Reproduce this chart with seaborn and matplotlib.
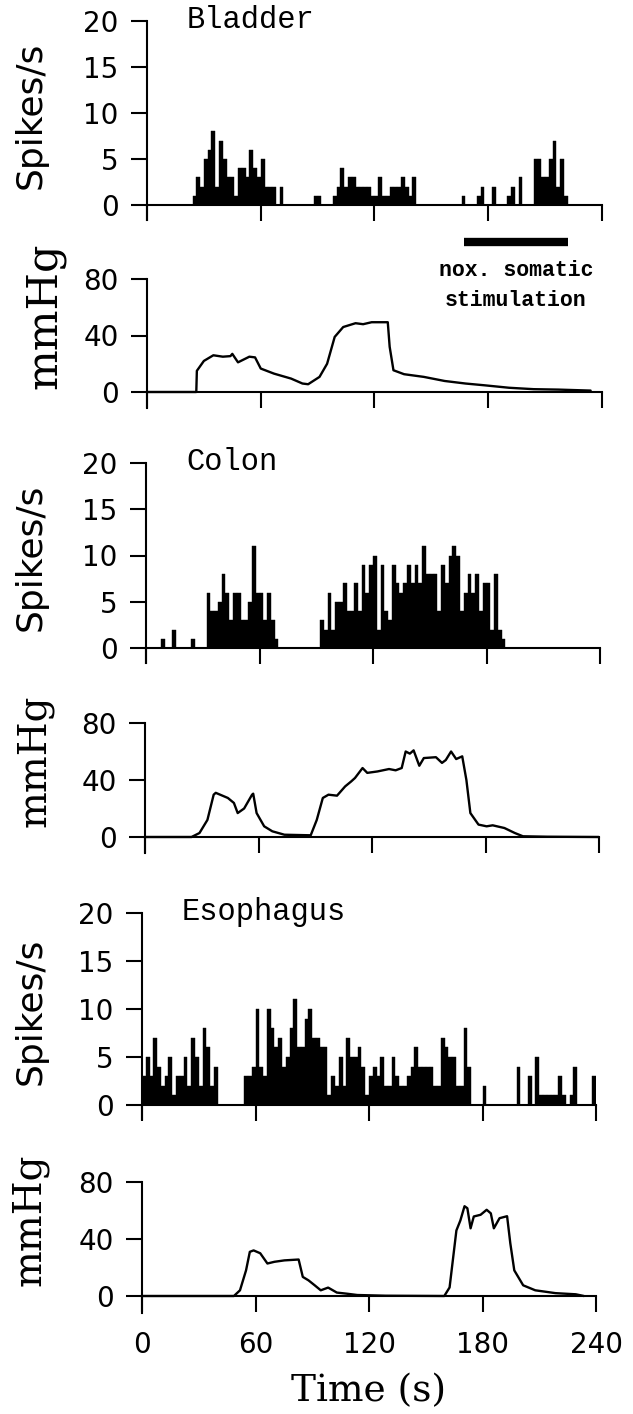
import numpy as np
import pandas as pd
import matplotlib
matplotlib.use("Agg")
import matplotlib.pyplot as plt
import seaborn as sns

# spike counts, 2 s bins from 0 to 240 s (one row = 20 s)
bladder_spikes = [
    0, 0, 0, 0, 0, 0, 0, 0, 0, 0,
    0, 0, 1, 3, 2, 5, 6, 8, 2, 7,
    5, 3, 3, 1, 4, 4, 3, 6, 4, 3,
    5, 2, 2, 2, 0, 2, 0, 0, 0, 0,
    0, 0, 0, 0, 1, 1, 0, 0, 0, 1,
    2, 4, 2, 3, 3, 2, 2, 2, 2, 1,
    1, 3, 1, 1, 2, 2, 2, 3, 2, 1,
    3, 0, 0, 0, 0, 0, 0, 0, 0, 0,
    0, 0, 0, 1, 0, 0, 0, 1, 2, 0,
    0, 2, 0, 0, 0, 1, 2, 0, 3, 0,
    0, 0, 5, 5, 3, 3, 5, 7, 2, 5,
    1, 0, 0, 0, 0, 0, 0, 0, 0, 0,
]
colon_spikes = [
    0, 0, 0, 0, 1, 0, 0, 2, 0, 0,
    0, 0, 1, 0, 0, 0, 6, 4, 4, 5,
    8, 6, 3, 6, 6, 3, 3, 5, 11, 6,
    6, 3, 6, 3, 1, 0, 0, 0, 0, 0,
    0, 0, 0, 0, 0, 0, 3, 2, 6, 2,
    5, 5, 7, 4, 4, 7, 4, 9, 6, 9,
    10, 2, 9, 4, 3, 9, 7, 6, 7, 9,
    7, 9, 7, 11, 8, 8, 8, 4, 9, 7,
    10, 11, 10, 4, 6, 8, 6, 8, 4, 7,
    7, 2, 8, 2, 1, 0, 0, 0, 0, 0,
    0, 0, 0, 0, 0, 0, 0, 0, 0, 0,
    0, 0, 0, 0, 0, 0, 0, 0, 0, 0,
]
esophagus_spikes = [
    3, 5, 3, 7, 4, 2, 3, 5, 1, 3,
    3, 5, 2, 7, 5, 2, 8, 6, 2, 4,
    0, 0, 0, 0, 0, 0, 0, 3, 3, 4,
    10, 4, 3, 10, 8, 6, 7, 4, 5, 8,
    11, 6, 6, 9, 10, 7, 7, 6, 6, 1,
    3, 2, 5, 2, 7, 5, 5, 6, 4, 1,
    3, 4, 3, 5, 2, 2, 5, 3, 2, 2,
    3, 4, 6, 4, 4, 4, 4, 2, 2, 7,
    6, 5, 5, 2, 2, 8, 4, 0, 0, 0,
    2, 0, 0, 0, 0, 0, 0, 0, 0, 4,
    0, 0, 3, 0, 5, 1, 1, 1, 1, 1,
    3, 1, 0, 1, 4, 0, 0, 0, 0, 3,
]
bin_t = np.arange(0, 240, 2) + 1

# pressure traces (time s, mmHg)
bladder_t = [0, 26, 26.3, 30, 35, 40, 44, 45, 48, 54, 57, 60, 67, 76, 82, 85, 91, 95,
             99, 103.5, 110, 114, 118.5, 127, 128, 130, 135.6, 146, 157, 168, 178,
             191, 204, 217, 234]
bladder_p = [0, 0, 15, 22, 26, 25, 25.4, 27, 21, 25, 24.5, 16.6, 13, 9.5, 6, 5.5, 10.7,
             20, 39, 46, 48.7, 48, 49.4, 49.4, 32, 15.4, 12.6, 10.7, 7.8, 6, 4.75,
             3, 2, 1.7, 1]
colon_t = [0, 24.6, 28.8, 33, 36.3, 37.4, 43.8, 47, 49, 52.4, 56.6, 57.2, 59, 63, 67.3,
           73.7, 87.6, 90.8, 94, 97, 101.5, 105.8, 109, 111, 115, 117.5, 122.9, 129,
           132.5, 135.7, 137.8, 140, 142, 145, 147.4, 153.8, 157, 159, 161.8, 164.5,
           167.7, 169.9, 172, 176.3, 180.6, 183.8, 190, 195.5, 199.8, 212.6, 240]
colon_p = [0, 0, 2.8, 12, 29.7, 31, 27.4, 23.9, 16.8, 20, 29.7, 30.4, 16.8, 7.5, 4,
           1.6, 1.2, 12, 27.4, 29.7, 29, 35.5, 39, 41.4, 48.4, 45, 46, 47.7, 46.8,
           48.4, 60, 58.5, 60.8, 50, 55.4, 56, 52, 54, 60, 54.7, 56.6, 40, 16.8, 8.7,
           7.5, 8.2, 6.3, 2.8, 0.5, 0.2, 0]
esophagus_t = [0, 48.6, 51.8, 55, 57, 59, 62.5, 66.3, 70, 75.3, 82.8, 85, 88, 91.3,
               94.5, 98.4, 103, 108.4, 113.8, 128.8, 159.8, 162.6, 166.2, 168.3, 170.5,
               172, 173.7, 175.4, 179, 182.2, 184.4, 186, 189, 193, 194.7, 196.8,
               201.5, 207.9, 218.6, 229.3, 233.6]
esophagus_p = [0, 0, 4, 18, 31, 32, 30, 22.8, 24, 25, 25.6, 13.4, 11, 7.5, 4, 5.9,
               2.4, 1.6, 0.7, 0.2, 0, 6, 46, 53, 63, 61.6, 47.5, 55.8, 57, 60.5, 58,
               47.5, 54.6, 56, 37, 18, 7.5, 4, 2, 1.2, 0]

stim_start, stim_end = 167, 222

organs = ["Bladder", "Colon", "Esophagus"]
spikes = [bladder_spikes, colon_spikes, esophagus_spikes]
traces = [(bladder_t, bladder_p), (colon_t, colon_p), (esophagus_t, esophagus_p)]

W, H = 633, 1414
sns.set_style("ticks")
plt.rcParams["font.family"] = ["DejaVu Sans"]
plt.rcParams.update({"axes.linewidth": 1.5, "text.color": "black",
                     "xtick.color": "black", "ytick.color": "black",
                     "axes.edgecolor": "black", "axes.labelcolor": "black"})
fig = plt.figure(figsize=(W / 100, H / 100), dpi=100)


def panel(left, width, top, zero, bot, ymax):
    ax = fig.add_axes([left / W, 1 - bot / H, width / W, (bot - top) / H])
    ax.set_ylim(-ymax * (bot - zero) / (zero - top), ymax)
    ax.set_xlim(0, 240)
    ax.spines["top"].set_visible(False)
    ax.spines["right"].set_visible(False)
    ax.spines["bottom"].set_position(("data", 0))
    ax.set_xticks([0, 60, 120, 180, 240])
    ax.tick_params(axis="both", direction="out", length=11.5, width=1.5,
                   labelsize=20, color="black", labelcolor="black", pad=9)
    ax.tick_params(axis="x", labelbottom=False)
    return ax


# pixel layout: left, width, top, zero, bottom
spike_pos = [(147, 455, 21, 205, 220), (146, 454, 463, 648, 663), (142, 454, 913, 1105, 1119)]
press_pos = [(147, 455, 279, 392, 408), (145, 454, 723, 837, 853), (142, 454, 1182, 1296, 1313)]
mmhg_x = [44, 35, 30]
mmhg_size = [31, 28, 28]

for i in range(3):
    l, w, t, z, b = spike_pos[i]
    ax = panel(l, w, t, z, b, 20)
    df = pd.DataFrame({"t": bin_t, "n": spikes[i]})
    sns.histplot(data=df, x="t", weights="n", binwidth=2, binrange=(0, 240),
                 color="black", alpha=1, edgecolor="black", linewidth=0.3, ax=ax)
    ax.set_ylim(-20 * (b - z) / (z - t), 20)
    ax.set_xlim(0, 240)
    ax.set_yticks([0, 5, 10, 15, 20])
    ax.set_xlabel("")
    ax.set_ylabel("")
    fig.text(31 / W, 1 - ((t + z) / 2 + 2) / H, "Spikes/s", rotation=90,
             ha="center", va="center", fontsize=26, family="DejaVu Sans")
    fig.text((l + 40) / W, 1 - (t - 1) / H, organs[i], ha="left", va="center",
             fontsize=22, family="Liberation Mono")

    l, w, t, z, b = press_pos[i]
    ax = panel(l, w, t, z, b, 80)
    tt, pp = traces[i]
    sns.lineplot(x=tt, y=pp, color="black", linewidth=1.7, estimator=None,
                 sort=False, ax=ax)
    ax.set_ylim(-80 * (b - z) / (z - t), 80)
    ax.set_xlim(0, 240)
    ax.set_yticks([0, 40, 80])
    fig.text(mmhg_x[i] / W, 1 - (z - 76) / H, "mmHg", rotation=90, ha="center",
             va="center", fontsize=mmhg_size[i], family="DejaVu Serif")
    if i == 0:
        ax.plot([stim_start, stim_end], [106, 106], color="black", linewidth=6,
                solid_capstyle="butt", clip_on=False)
        fig.text(516 / W, 1 - 271 / H, "nox. somatic", ha="center", va="center",
                 fontsize=15.5, family="Liberation Mono", fontweight="bold")
        fig.text(516 / W, 1 - 300 / H, "stimulation", ha="center", va="center",
                 fontsize=15.5, family="Liberation Mono", fontweight="bold")
    if i == 2:
        ax.tick_params(axis="x", labelbottom=True, pad=14)

fig.text(369 / W, 1 - 1391 / H, "Time (s)", ha="center", va="center",
         fontsize=27, family="DejaVu Serif")

fig.savefig("out.png", dpi=100, facecolor="white")
